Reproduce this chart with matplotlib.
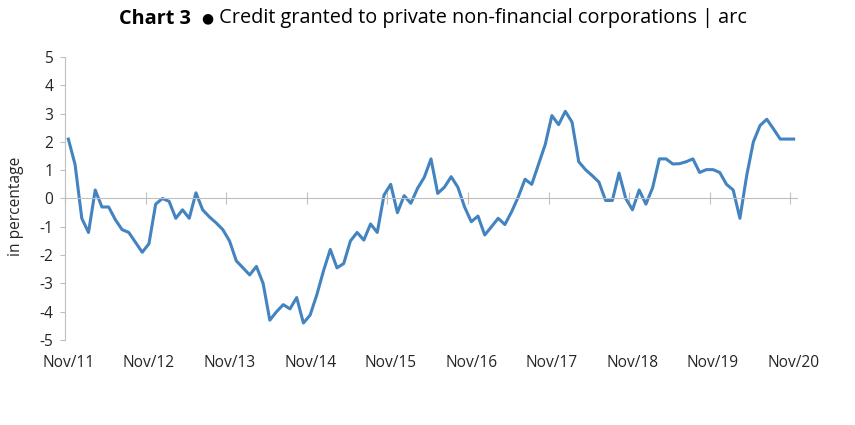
import matplotlib
matplotlib.use('Agg')
import matplotlib.pyplot as plt
import numpy as np

# monthly annual rate of change, Nov/11 .. Nov/20
values = [
    2.1, 1.2, -0.7, -1.2, 0.3, -0.3, -0.3, -0.75, -1.1, -1.2, -1.55, -1.9,
    -1.6, -0.2, 0.0, -0.1, -0.7, -0.4, -0.7, 0.2, -0.4, -0.65, -0.86, -1.1,
    -1.5, -2.2, -2.45, -2.7, -2.4, -3.0, -4.3, -4.0, -3.75, -3.9, -3.5, -4.4,
    -4.12, -3.4, -2.55, -1.8, -2.45, -2.3, -1.5, -1.2, -1.47, -0.9, -1.2, 0.12,
    0.5, -0.5, 0.1, -0.17, 0.36, 0.75, 1.4, 0.18, 0.4, 0.77, 0.4, -0.3,
    -0.82, -0.62, -1.29, -1.0, -0.7, -0.92, -0.47, 0.06, 0.68, 0.5, 1.2, 1.9,
    2.93, 2.61, 3.08, 2.7, 1.3, 1.02, 0.81, 0.58, -0.07, -0.07, 0.9, 0.0,
    -0.4, 0.3, -0.2, 0.38, 1.4, 1.4, 1.22, 1.23, 1.3, 1.4, 0.92, 1.02,
    1.02, 0.92, 0.5, 0.3, -0.7, 0.8, 2.0, 2.58, 2.8, 2.46, 2.1, 2.1, 2.1,
]
tick_labels = ['Nov/11', 'Nov/12', 'Nov/13', 'Nov/14', 'Nov/15',
               'Nov/16', 'Nov/17', 'Nov/18', 'Nov/19', 'Nov/20']

plt.rcParams['font.family'] = ['Open Sans', 'DejaVu Sans']
plt.rcParams['axes.unicode_minus'] = False
grey = '#BFBFBF'
txt = '#262626'
fs = 11.2

fig = plt.figure(figsize=(8.55, 4.25), dpi=100)
ax = fig.add_axes([65 / 855, 85 / 425, 732 / 855, 283 / 425])

x = np.arange(len(values))
ax.plot(x, values, color='#4383C0', lw=2.2, solid_joinstyle='round')

ax.set_xlim(-0.5, len(values) - 0.5)
ax.set_ylim(-5, 5)
ax.set_yticks(range(-5, 6))
ax.tick_params(axis='y', direction='out', length=3.5, width=0.8, color=grey,
               labelsize=fs, labelcolor=txt, pad=5)

# category axis sits on zero, ticks between categories
for s in ['top', 'right']:
    ax.spines[s].set_visible(False)
ax.spines['left'].set_color(grey)
ax.spines['bottom'].set_color(grey)
ax.spines['bottom'].set_position(('data', 0))
ax.set_xticks(np.arange(-0.5, len(values) - 1, 12))
ax.tick_params(axis='x', direction='inout', length=8, width=0.8, color=grey,
               labelbottom=False)

for k, lab in enumerate(tick_labels):
    ax.text(12 * k, -0.081, lab, transform=ax.get_xaxis_transform(),
            ha='center', va='center', fontsize=fs, color=txt)

fig.text(16 / 855, 1 - 206 / 425, 'in percentage', rotation=90,
         ha='center', va='center', fontsize=fs, color=txt)

# title: bold part + bullet + regular part, centred together
r = fig.canvas.get_renderer()
ty = 1 - 18.5 / 425
t1 = fig.text(0, ty, 'Chart 3  ', fontsize=14.3, fontweight='bold',
              color='black', va='center')
t2 = fig.text(0, ty, '\u25CF', fontsize=10, color='black', va='center')
t3 = fig.text(0, ty, ' Credit granted to private non-financial corporations | arc',
              fontsize=14.3, color='black', va='center')
ws = [t.get_window_extent(r).width for t in (t1, t2, t3)]
x0 = 433 - sum(ws) / 2
for t, w in zip((t1, t2, t3), ws):
    t.set_x(x0 / 855)
    x0 += w

fig.savefig('out.png', dpi=100)
